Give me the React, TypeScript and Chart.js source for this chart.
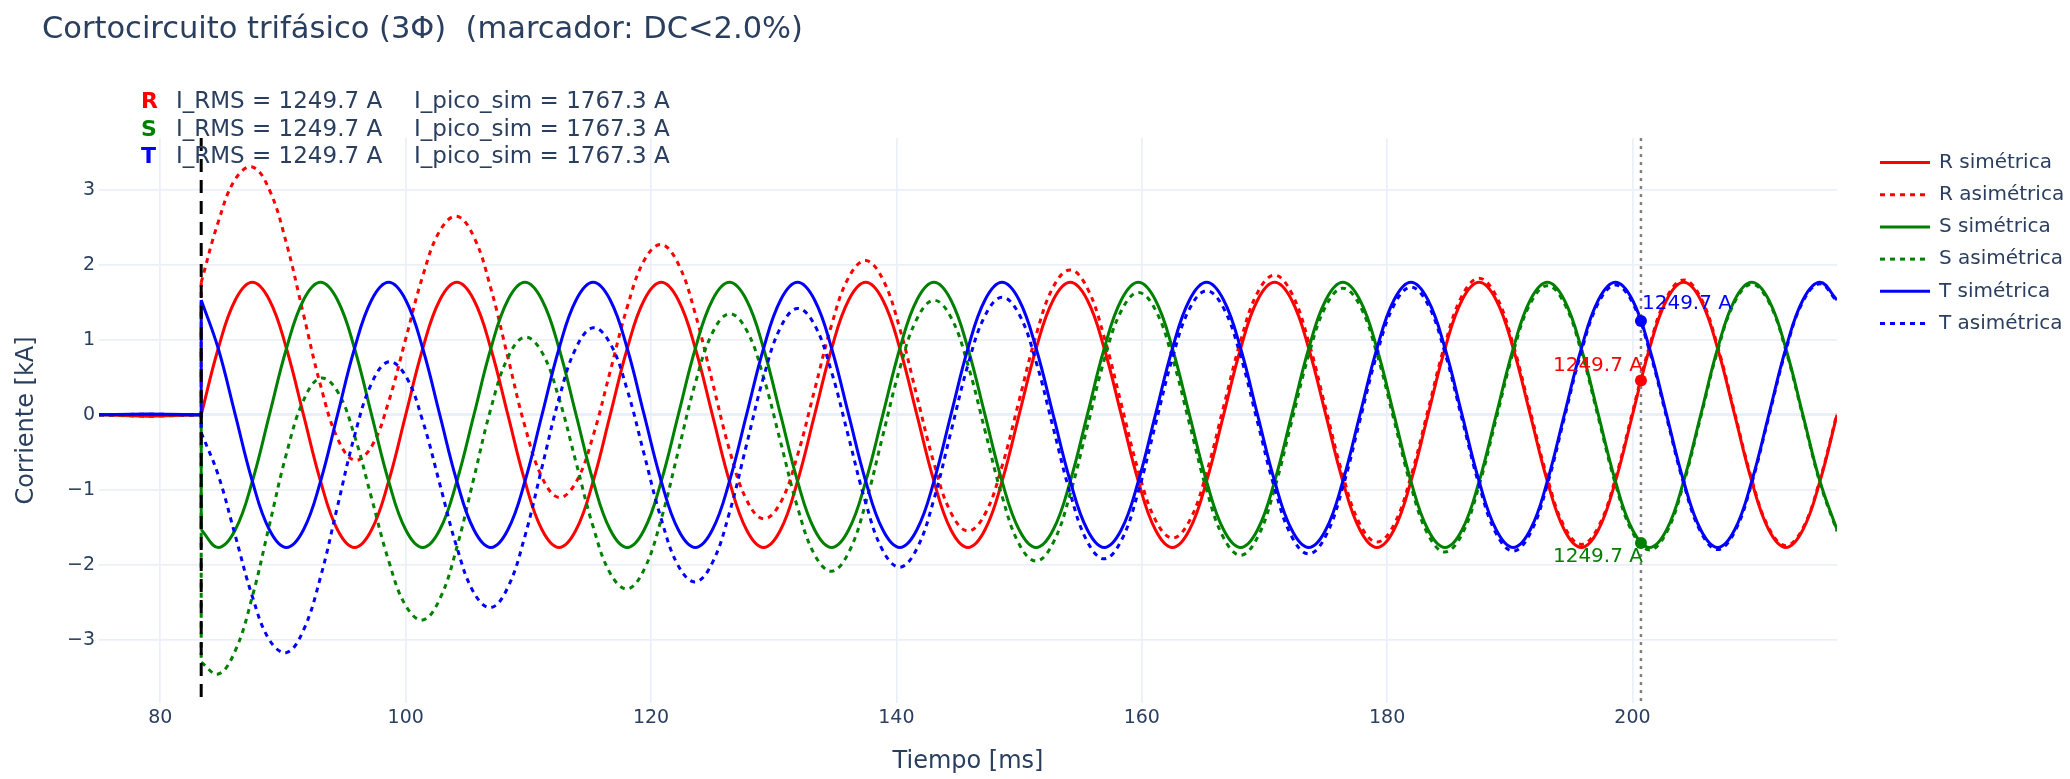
import React, { useEffect, useRef } from 'react';
import { Chart, registerables } from 'chart.js';

Chart.register(...registerables);

// ---------- DATA ----------
const titulo = 'Cortocircuito trifásico (3Φ)  (marcador: DC<2.0%)';
const tituloEjeX = 'Tiempo [ms]';
const tituloEjeY = 'Corriente [kA]';

// pre-fault samples [ms]
const tiempoPrefallaMs = [75.0, 79.0, 83.33];
// fault waveform samples [ms]
const tiempoMs = [
  83.33, 84.72, 86.11, 87.5, 88.89, 90.28, 91.67, 93.06, 94.44, 95.83, 97.22, 98.61,
  100.0, 101.39, 102.78, 104.17, 105.56, 106.94, 108.33, 109.72, 111.11, 112.5, 113.89, 115.28,
  116.67, 118.06, 119.44, 120.83, 122.22, 123.61, 125.0, 126.39, 127.78, 129.17, 130.56, 131.94,
  133.33, 134.72, 136.11, 137.5, 138.89, 140.28, 141.67, 143.06, 144.44, 145.83, 147.22, 148.61,
  150.0, 151.39, 152.78, 154.17, 155.56, 156.94, 158.33, 159.72, 161.11, 162.5, 163.89, 165.28,
  166.67, 168.06, 169.44, 170.83, 172.22, 173.61, 175.0, 176.39, 177.78, 179.17, 180.56, 181.94,
  183.33, 184.72, 186.11, 187.5, 188.89, 190.28, 191.67, 193.06, 194.44, 195.83, 197.22, 198.61,
  200.0, 201.39, 202.78, 204.17, 205.56, 206.94, 208.33, 209.72, 211.11, 212.5, 213.89, 215.28,
  216.67,
];

// pre-fault currents [kA]
const rSimetricaPre = [0, -0.02, 0];
const rAsimetricaPre = [0, -0.02, 0];
const sSimetricaPre = [0, 0.005, 0];
const sAsimetricaPre = [0, 0.005, 0];
const tSimetricaPre = [0, 0.01, 0];
const tAsimetricaPre = [0, 0.01, 0];

// fault currents [kA]
const rSimetrica = [
  0, 0.884, 1.531, 1.767, 1.531, 0.884, 0, -0.884, -1.531, -1.767, -1.531, -0.884,
  0, 0.884, 1.531, 1.767, 1.531, 0.884, 0, -0.884, -1.531, -1.767, -1.531, -0.884,
  0, 0.884, 1.531, 1.767, 1.531, 0.884, 0, -0.884, -1.531, -1.767, -1.531, -0.884,
  0, 0.884, 1.531, 1.767, 1.531, 0.884, 0, -0.884, -1.531, -1.767, -1.531, -0.884,
  0, 0.884, 1.531, 1.767, 1.531, 0.884, 0, -0.884, -1.531, -1.767, -1.531, -0.884,
  0, 0.884, 1.531, 1.767, 1.531, 0.884, 0, -0.884, -1.531, -1.767, -1.531, -0.884,
  0, 0.884, 1.531, 1.767, 1.531, 0.884, 0, -0.884, -1.531, -1.767, -1.531, -0.884,
  0, 0.884, 1.531, 1.767, 1.531, 0.884, 0, -0.884, -1.531, -1.767, -1.531, -0.884,
  0,
];
const rAsimetrica = [
  1.767, 2.571, 3.142, 3.304, 2.999, 2.285, 1.337, 0.393, -0.312, -0.604, -0.42, 0.176,
  1.012, 1.85, 2.453, 2.647, 2.371, 1.686, 0.766, -0.153, -0.833, -1.101, -0.895, -0.277,
  0.58, 1.437, 2.059, 2.271, 2.012, 1.343, 0.439, -0.465, -1.131, -1.385, -1.167, -0.536,
  0.332, 1.201, 1.833, 2.056, 1.807, 1.147, 0.251, -0.644, -1.302, -1.548, -1.322, -0.685,
  0.19, 1.065, 1.704, 1.932, 1.689, 1.035, 0.144, -0.747, -1.4, -1.642, -1.412, -0.77,
  0.109, 0.988, 1.63, 1.862, 1.621, 0.97, 0.082, -0.805, -1.456, -1.695, -1.463, -0.819,
  0.062, 0.944, 1.588, 1.821, 1.583, 0.933, 0.047, -0.839, -1.488, -1.726, -1.492, -0.847,
  0.036, 0.918, 1.564, 1.798, 1.561, 0.912, 0.027, -0.858, -1.506, -1.743, -1.509, -0.863,
  0.02,
];
const sSimetrica = [
  -1.531, -1.767, -1.531, -0.884, 0, 0.884, 1.531, 1.767, 1.531, 0.884, 0, -0.884,
  -1.531, -1.767, -1.531, -0.884, 0, 0.884, 1.531, 1.767, 1.531, 0.884, 0, -0.884,
  -1.531, -1.767, -1.531, -0.884, 0, 0.884, 1.531, 1.767, 1.531, 0.884, 0, -0.884,
  -1.531, -1.767, -1.531, -0.884, 0, 0.884, 1.531, 1.767, 1.531, 0.884, 0, -0.884,
  -1.531, -1.767, -1.531, -0.884, 0, 0.884, 1.531, 1.767, 1.531, 0.884, 0, -0.884,
  -1.531, -1.767, -1.531, -0.884, 0, 0.884, 1.531, 1.767, 1.531, 0.884, 0, -0.884,
  -1.531, -1.767, -1.531, -0.884, 0, 0.884, 1.531, 1.767, 1.531, 0.884, 0, -0.884,
  -1.531, -1.767, -1.531, -0.884, 0, 0.884, 1.531, 1.767, 1.531, 0.884, 0, -0.884,
  -1.531,
];
const sAsimetrica = [
  -3.298, -3.454, -3.142, -2.421, -1.468, -0.517, 0.194, 0.49, 0.312, -0.279, -1.111, -1.944,
  -2.543, -2.733, -2.453, -1.764, -0.84, 0.082, 0.765, 1.036, 0.833, 0.218, -0.636, -1.491,
  -2.111, -2.32, -2.059, -1.388, -0.481, 0.425, 1.092, 1.348, 1.131, 0.502, -0.364, -1.232,
  -1.863, -2.084, -1.833, -1.173, -0.276, 0.621, 1.28, 1.527, 1.302, 0.665, -0.209, -1.083,
  -1.721, -1.948, -1.704, -1.049, -0.158, 0.733, 1.387, 1.63, 1.4, 0.759, -0.119, -0.998,
  -1.64, -1.871, -1.63, -0.979, -0.09, 0.798, 1.449, 1.688, 1.456, 0.812, -0.068, -0.949,
  -1.593, -1.827, -1.588, -0.938, -0.052, 0.835, 1.484, 1.722, 1.488, 0.843, -0.039, -0.921,
  -1.567, -1.801, -1.564, -0.915, -0.03, 0.856, 1.504, 1.741, 1.506, 0.86, -0.022, -0.905,
  -1.551,
];
const tSimetrica = [
  1.531, 0.884, 0, -0.884, -1.531, -1.767, -1.531, -0.884, 0, 0.884, 1.531, 1.767,
  1.531, 0.884, 0, -0.884, -1.531, -1.767, -1.531, -0.884, 0, 0.884, 1.531, 1.767,
  1.531, 0.884, 0, -0.884, -1.531, -1.767, -1.531, -0.884, 0, 0.884, 1.531, 1.767,
  1.531, 0.884, 0, -0.884, -1.531, -1.767, -1.531, -0.884, 0, 0.884, 1.531, 1.767,
  1.531, 0.884, 0, -0.884, -1.531, -1.767, -1.531, -0.884, 0, 0.884, 1.531, 1.767,
  1.531, 0.884, 0, -0.884, -1.531, -1.767, -1.531, -0.884, 0, 0.884, 1.531, 1.767,
  1.531, 0.884, 0, -0.884, -1.531, -1.767, -1.531, -0.884, 0, 0.884, 1.531, 1.767,
  1.531, 0.884, 0, -0.884, -1.531, -1.767, -1.531, -0.884, 0, 0.884, 1.531, 1.767,
  1.531,
];
const tAsimetrica = [
  -0.236, -0.803, -1.611, -2.421, -2.999, -3.168, -2.868, -2.161, -1.219, -0.279, 0.42, 0.707,
  0.519, -0.082, -0.922, -1.764, -2.371, -2.569, -2.297, -1.615, -0.698, 0.218, 0.895, 1.16,
  0.951, 0.331, -0.528, -1.388, -2.012, -2.226, -1.97, -1.303, -0.4, 0.502, 1.167, 1.419,
  1.199, 0.567, -0.302, -1.173, -1.807, -2.03, -1.782, -1.124, -0.229, 0.665, 1.322, 1.568,
  1.341, 0.703, -0.173, -1.049, -1.689, -1.918, -1.675, -1.021, -0.131, 0.759, 1.412, 1.653,
  1.422, 0.78, -0.099, -0.979, -1.621, -1.853, -1.613, -0.963, -0.075, 0.812, 1.463, 1.702,
  1.469, 0.824, -0.057, -0.938, -1.583, -1.816, -1.578, -0.929, -0.043, 0.843, 1.492, 1.73,
  1.495, 0.85, -0.033, -0.915, -1.561, -1.795, -1.558, -0.91, -0.025, 0.86, 1.509, 1.746,
  1.511,
];

const etiquetasSeries = ['R simétrica', 'R asimétrica', 'S simétrica', 'S asimétrica', 'T simétrica', 'T asimétrica'];
const fases = ['R', 'S', 'T'];
const iRmsA = [1249.7, 1249.7, 1249.7];
const iPicoSimA = [1767.3, 1767.3, 1767.3];
const instanteFallaMs = 83.33;
const instanteMarcadorMs = 200.69;
const valorMarcadorKA = [0.457, -1.707, 1.25];
const etiquetaMarcadorA = [1249.7, 1249.7, 1249.7];

// ---------- STYLE ----------
const FONT = '"DejaVu Sans", Verdana, sans-serif';
const TXT = '#2a3f5f';
const GRID = '#EBF0F8';
const coloresFase = ['#ff0000', '#008000', '#0000ff'];
const DOT = [5, 5];

const seriesPre = [rSimetricaPre, rAsimetricaPre, sSimetricaPre, sAsimetricaPre, tSimetricaPre, tAsimetricaPre];
const seriesFalla = [rSimetrica, rAsimetrica, sSimetrica, sAsimetrica, tSimetrica, tAsimetrica];

const minus = (v: number) => (v < 0 ? '\u2212' + Math.abs(v) : String(v));

const overlay = {
  id: 'overlay',
  beforeDraw(chart: any) {
    chart.$lineasHechas = false;
  },
  beforeDatasetDraw(chart: any, args: any) {
    const ds: any = chart.data.datasets[args.index];
    if (!ds.esMarcador || chart.$lineasHechas) return;
    chart.$lineasHechas = true;
    const { ctx, chartArea: a, scales } = chart;
    const x = scales.x;
    ctx.save();
    const xm = x.getPixelForValue(instanteMarcadorMs);
    ctx.strokeStyle = '#808080';
    ctx.lineWidth = 2.5;
    ctx.setLineDash([3, 5]);
    ctx.beginPath();
    ctx.moveTo(xm, a.top);
    ctx.lineTo(xm, a.bottom);
    ctx.stroke();
    const xf = x.getPixelForValue(instanteFallaMs);
    ctx.strokeStyle = '#000000';
    ctx.lineWidth = 3;
    ctx.setLineDash([13, 8]);
    ctx.beginPath();
    ctx.moveTo(xf, a.top);
    ctx.lineTo(xf, a.bottom);
    ctx.stroke();
    ctx.restore();
  },
  afterDatasetsDraw(chart: any) {
    const { ctx } = chart;
    ctx.save();
    ctx.font = `20px ${FONT}`;
    ctx.textBaseline = 'middle';
    const pos = [
      { align: 'right', dx: 2, dy: -15 },
      { align: 'right', dx: 2, dy: 14 },
      { align: 'left', dx: 1, dy: -17 },
    ];
    chart.data.datasets.forEach((ds: any, i: number) => {
      if (!ds.esMarcador) return;
      const f = ds.fase;
      const pt = chart.getDatasetMeta(i).data[0];
      if (!pt) return;
      ctx.fillStyle = coloresFase[f];
      ctx.textAlign = pos[f].align;
      ctx.fillText(etiquetaMarcadorA[f].toFixed(1) + ' A', pt.x + pos[f].dx, pt.y + pos[f].dy);
    });
    ctx.restore();
  },
  afterDraw(chart: any) {
    const { ctx, chartArea: a } = chart;
    ctx.save();
    // title
    ctx.fillStyle = TXT;
    ctx.font = `30.5px ${FONT}`;
    ctx.textAlign = 'left';
    ctx.textBaseline = 'alphabetic';
    ctx.fillText(titulo, 42, 38);
    // phase summary
    fases.forEach((f, i) => {
      const y = 108 + i * 27.5;
      ctx.font = `bold 22px ${FONT}`;
      ctx.fillStyle = coloresFase[i];
      ctx.fillText(f, 141, y);
      ctx.font = `23px ${FONT}`;
      ctx.fillStyle = TXT;
      ctx.fillText(`I_RMS = ${iRmsA[i].toFixed(1)} A`, 176, y);
      ctx.fillText(`I_pico_sim = ${iPicoSimA[i].toFixed(1)} A`, 414, y);
    });
    // legend
    const lx = a.right + 43;
    etiquetasSeries.forEach((lab, i) => {
      const y = 162.5 + i * 32.2;
      ctx.strokeStyle = coloresFase[Math.floor(i / 2)];
      ctx.lineWidth = 3;
      ctx.setLineDash(i % 2 === 1 ? DOT : []);
      ctx.beginPath();
      ctx.moveTo(lx, y);
      ctx.lineTo(lx + 50, y);
      ctx.stroke();
      ctx.setLineDash([]);
      ctx.fillStyle = TXT;
      ctx.font = `20px ${FONT}`;
      ctx.textBaseline = 'middle';
      ctx.fillText(lab, lx + 59, y);
      ctx.textBaseline = 'alphabetic';
    });
    ctx.restore();
  },
};

export default function App() {
  const ref = useRef<HTMLCanvasElement>(null);
  useEffect(() => {
    const canvas = ref.current;
    if (!canvas) return;
    Chart.defaults.font.family = FONT;
    const base = (i: number) => ({
      borderColor: coloresFase[Math.floor(i / 2)],
      backgroundColor: coloresFase[Math.floor(i / 2)],
      borderWidth: 3,
      borderDash: i % 2 === 1 ? DOT : [],
      pointRadius: 0,
      pointHoverRadius: 0,
      fill: false,
      order: 10 - i,
    });
    // pre-fault segment plus the jump to the first fault sample (straight lines)
    const preDatasets = seriesPre.map((vals, i) => ({
      ...base(i),
      label: etiquetasSeries[i] + ' (prefalla)',
      data: [
        ...tiempoPrefallaMs.map((t, k) => ({ x: t, y: vals[k] })),
        { x: tiempoMs[0], y: seriesFalla[i][0] },
      ],
      tension: 0,
    }));
    const faultDatasets = seriesFalla.map((vals, i) => ({
      ...base(i),
      label: etiquetasSeries[i],
      data: tiempoMs.map((t, k) => ({ x: t, y: vals[k] })),
      tension: 0.4,
    }));
    const markerDatasets = fases.map((f, i) => ({
      label: 'marcador ' + f,
      data: [{ x: instanteMarcadorMs, y: valorMarcadorKA[i] }],
      showLine: false,
      pointRadius: 6,
      pointBackgroundColor: coloresFase[i],
      pointBorderColor: coloresFase[i],
      pointBorderWidth: 0,
      order: -1 - i,
      esMarcador: true,
      fase: i,
    }));
    const chart = new Chart(canvas, {
      type: 'line',
      data: { datasets: [...preDatasets, ...faultDatasets, ...markerDatasets] as any },
      options: {
        animation: false,
        responsive: false,
        maintainAspectRatio: false,
        layout: { padding: { left: 0, top: 138, right: 233, bottom: 0 } },
        plugins: { legend: { display: false }, title: { display: false }, tooltip: { enabled: false } },
        scales: {
          x: {
            type: 'linear',
            min: 75,
            max: 216.67,
            afterFit: (s: any) => { s.height = 76; },
            grid: { color: GRID, lineWidth: 1.7, drawTicks: false },
            border: { display: false },
            ticks: {
              stepSize: 20,
              includeBounds: false,
              padding: 4,
              color: TXT,
              font: { size: 19 },
              maxRotation: 0,
              callback: (v: any) => String(v),
            },
            title: { display: true, text: tituloEjeX, color: TXT, font: { size: 24 }, padding: { top: 0, bottom: 3 } },
          },
          y: {
            type: 'linear',
            min: -3.84,
            max: 3.69,
            afterFit: (s: any) => { s.width = 99; },
            grid: { color: GRID, lineWidth: (c: any) => (c.tick && c.tick.value === 0 ? 3 : 1.7), drawTicks: false },
            border: { display: false },
            ticks: {
              stepSize: 1,
              includeBounds: false,
              padding: 4,
              color: TXT,
              font: { size: 19 },
              callback: (v: any) => minus(Number(v)),
            },
            title: { display: true, text: tituloEjeY, color: TXT, font: { size: 24 }, padding: { top: 12, bottom: 0 } },
          },
        },
      },
      plugins: [overlay],
    } as any);
    return () => chart.destroy();
  }, []);
  return (
    <div style={{ position: 'fixed', left: 0, top: 0, width: 2070, height: 779, background: '#ffffff' }}>
      <canvas ref={ref} width={2070} height={779} style={{ display: 'block' }} />
    </div>
  );
}
